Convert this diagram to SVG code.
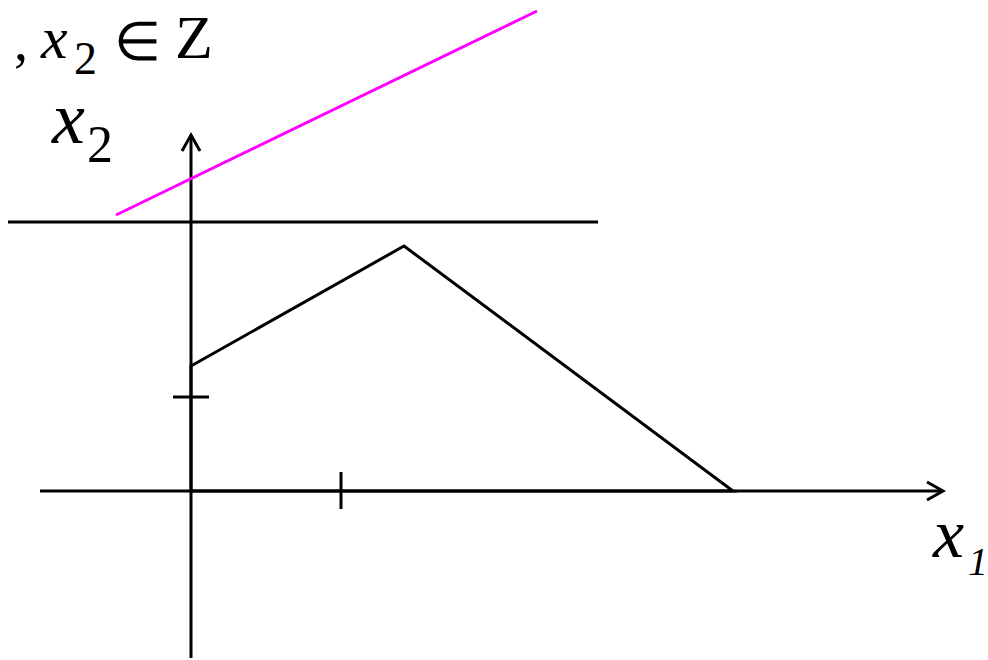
<svg xmlns="http://www.w3.org/2000/svg" width="988" height="660" viewBox="0 0 988 660">
<style>
.ln{stroke:#000;stroke-width:3;fill:none;stroke-linecap:butt}
.t{font-family:'Liberation Serif','Times New Roman',serif;fill:#000}
.i{font-style:italic}
</style>
<rect width="988" height="660" fill="#fff"/>
<g id="connectors">
<line class="ln" x1="40" y1="491" x2="943" y2="491"/>
<polyline class="ln" points="927,482 943,491 927,500"/>
<line class="ln" x1="191" y1="658" x2="191" y2="135"/>
<polyline class="ln" points="182,151 191,135 200,151"/>
<line class="ln" x1="8" y1="222" x2="598" y2="222"/>
<line x1="116" y1="215" x2="537" y2="11" stroke="#ff00ff" stroke-width="3"/>
<line class="ln" x1="173" y1="397" x2="209" y2="397"/>
<line class="ln" x1="341" y1="472" x2="341" y2="509"/>
</g>
<g id="region">
<polygon class="ln" points="191,366 404,246 733,491 191,491"/>
</g>
<g id="labels">
<text class="t" x="14" y="60" font-size="56">,</text>
<text class="t i" x="41" y="58" font-size="60">x</text>
<text class="t" x="74" y="74" font-size="46">2</text>
<text class="t" x="114" y="60" font-size="54">∈</text>
<text class="t" x="175" y="58" font-size="62">Z</text>
<text class="t i" x="52" y="143" font-size="74">x</text>
<text class="t" x="87" y="162" font-size="52">2</text>
<text class="t i" x="933" y="557" font-size="70">x</text>
<text class="t i" x="968" y="575" font-size="40">1</text>
</g>
</svg>
